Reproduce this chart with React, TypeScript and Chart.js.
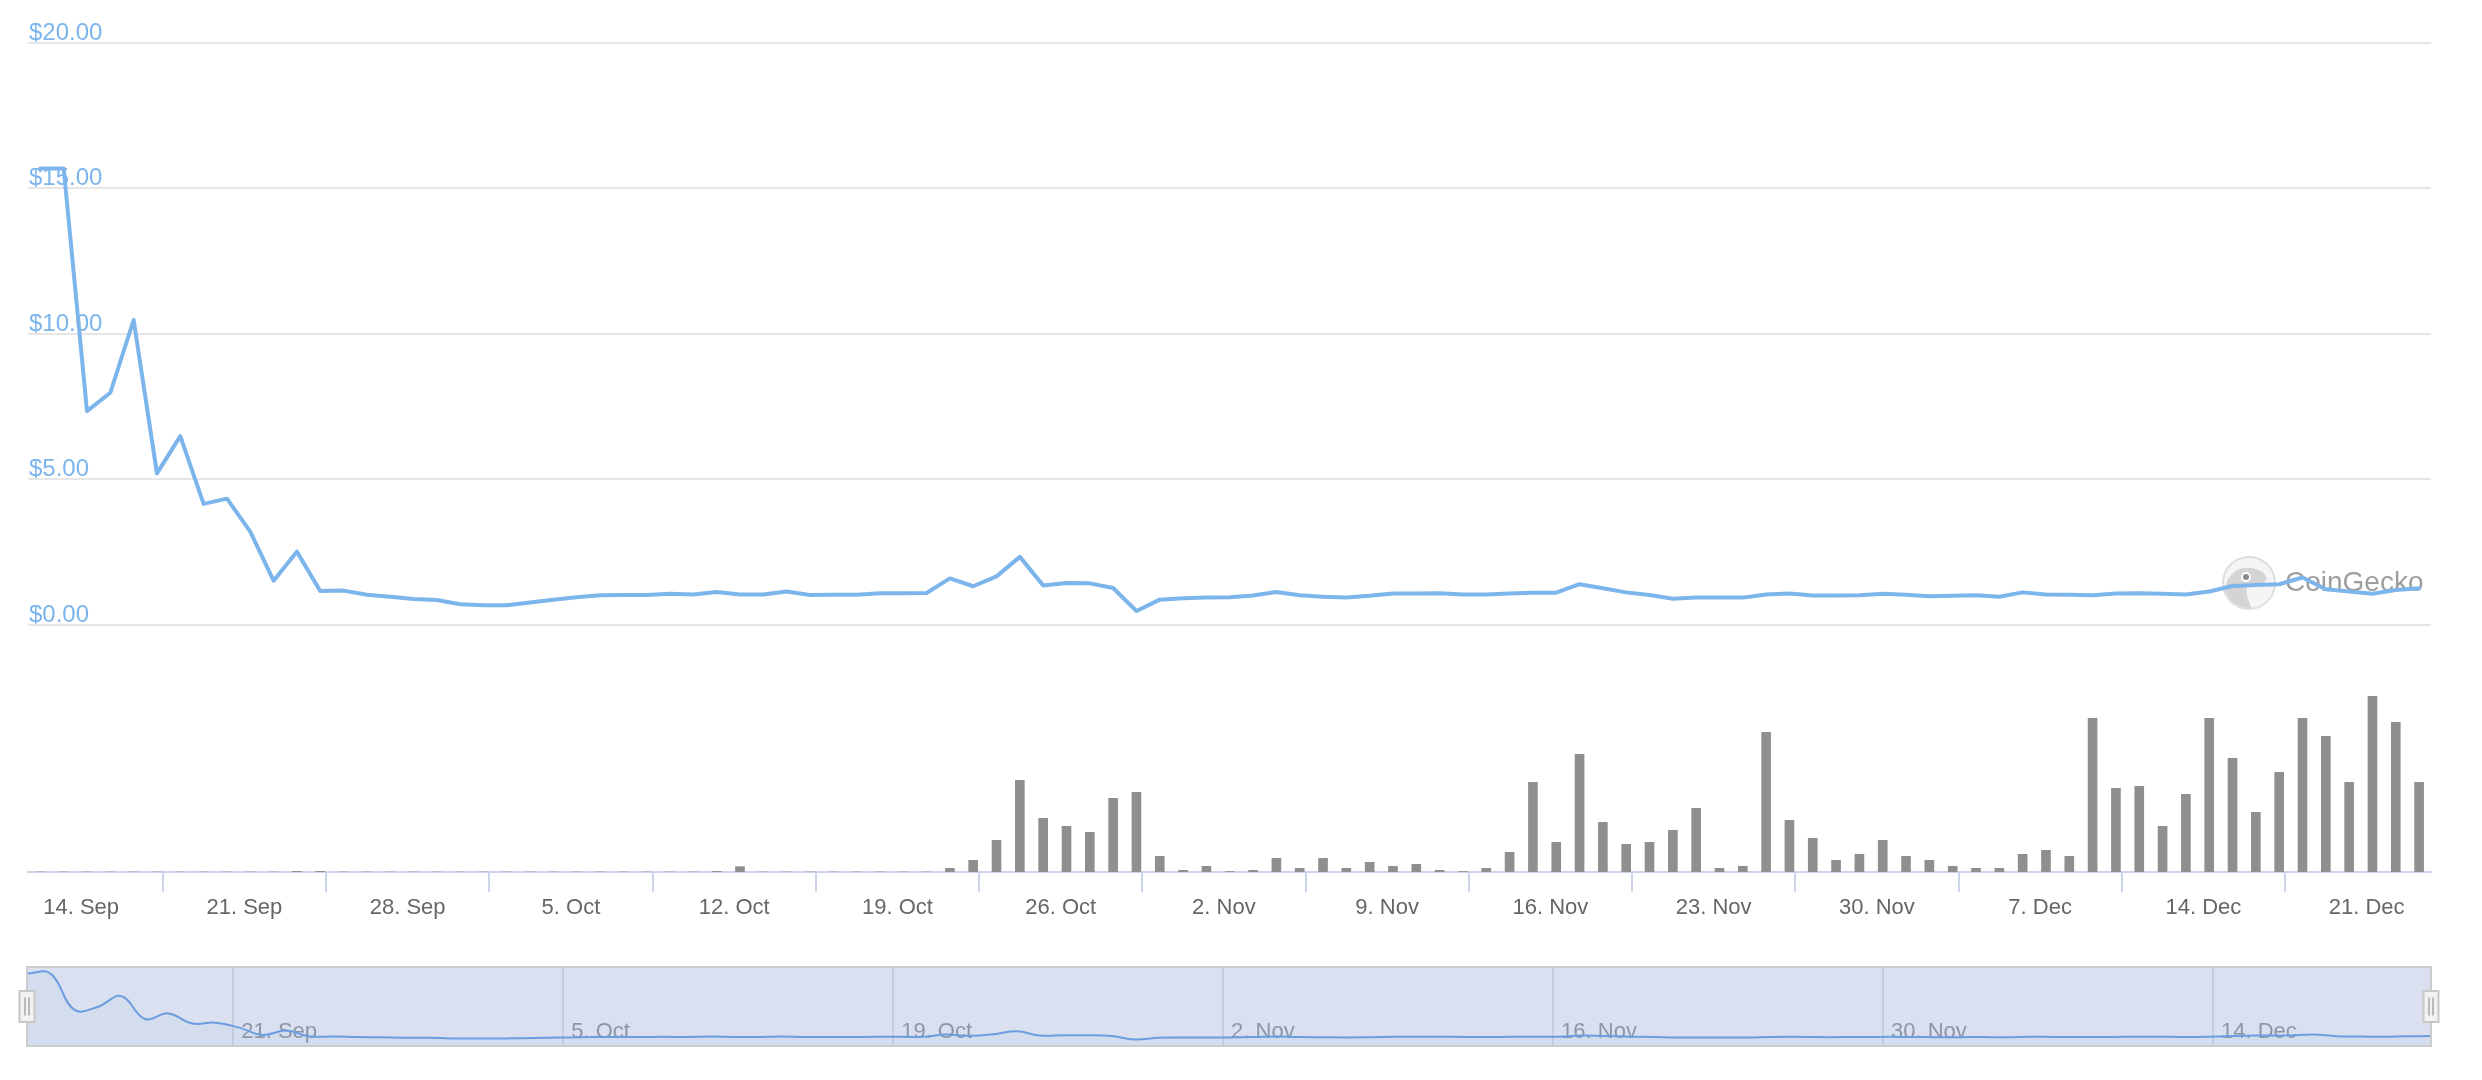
import React, { useEffect, useRef } from 'react';
import { Chart, registerables } from 'chart.js';

Chart.register(...registerables);

// ---------- data ----------
// x values are days counted from 14 Sep (00:00); one point per day
const firstPointDay = -1.75; // 12 Sep, early morning

const tickDays = [0, 7, 14, 21, 28, 35, 42, 49, 56, 63, 70, 77, 84, 91, 98];
const tickLabels = [
  '14. Sep', '21. Sep', '28. Sep', '5. Oct', '12. Oct', '19. Oct', '26. Oct',
  '2. Nov', '9. Nov', '16. Nov', '23. Nov', '30. Nov', '7. Dec', '14. Dec', '21. Dec',
];

const navTickDays = [7, 21, 35, 49, 63, 77, 91];
const navTickLabels = ['21. Sep', '5. Oct', '19. Oct', '2. Nov', '16. Nov', '30. Nov', '14. Dec'];

const priceTicks = [0, 5, 10, 15, 20];

const prices = [
  15.69, 15.69, 7.35, 7.98, 10.48, 5.21, 6.49, 4.16, 4.34, 3.21,
  1.52, 2.52, 1.17, 1.18, 1.04, 0.97, 0.89, 0.86, 0.71, 0.68,
  0.68, 0.77, 0.87, 0.95, 1.02, 1.03, 1.03, 1.07, 1.05, 1.13,
  1.05, 1.05, 1.15, 1.03, 1.04, 1.04, 1.09, 1.09, 1.10, 1.60,
  1.33, 1.67, 2.34, 1.36, 1.44, 1.43, 1.27, 0.48, 0.87, 0.92,
  0.94, 0.95, 1.01, 1.13, 1.02, 0.97, 0.94, 1.00, 1.08, 1.08,
  1.09, 1.05, 1.05, 1.08, 1.11, 1.11, 1.40, 1.26, 1.12, 1.03,
  0.90, 0.94, 0.94, 0.94, 1.05, 1.08, 1.01, 1.01, 1.02, 1.07,
  1.04, 0.99, 1.00, 1.02, 0.97, 1.12, 1.05, 1.04, 1.02, 1.08,
  1.09, 1.07, 1.05, 1.15, 1.34, 1.37, 1.40, 1.63, 1.23, 1.15,
  1.07, 1.20, 1.26,
];

// trading volume (relative units)
const volumes = [
  0, 0, 0, 0, 0, 0, 0, 0, 0, 0,
  0, 0.7, 0.7, 0, 0, 0, 0, 0, 0, 0,
  0, 0, 0, 0, 0, 0, 0, 0, 0, 0.7,
  5.3, 0, 0, 0, 0, 0, 0, 0, 0, 3.7,
  11.7, 31.7, 91.7, 53.7, 45.7, 39.7, 73.7, 79.7, 15.7, 1.7,
  5.7, 0.5, 1.7, 13.7, 3.7, 13.7, 3.7, 9.7, 5.7, 7.7,
  1.7, 0.5, 3.7, 19.7, 89.7, 29.7, 117.7, 49.7, 27.7, 29.7,
  41.7, 63.7, 3.7, 5.7, 139.7, 51.7, 33.7, 11.7, 17.7, 31.7,
  15.7, 11.7, 5.7, 3.7, 3.7, 17.7, 21.7, 15.7, 153.7, 83.7,
  85.7, 45.7, 77.7, 153.7, 113.7, 59.7, 99.7, 153.7, 135.7, 89.7,
  175.7, 149.7, 89.7,
];

// ---------- styles ----------
const FONT = '"Liberation Sans", Arial, Helvetica, sans-serif';
const LINE_COLOR = '#7cb5ec';
const BAR_COLOR = '#8f8f8f';
const NAV_LINE = '#6b9de0';

const X_MIN = -2.28;
const X_MAX = 100.76;
const PRICE_MIN = -8.49;
const PRICE_MAX = 20;
const VOL_MAX = 829;

const watermark = {
  id: 'watermark',
  beforeDatasetsDraw(chart: any) {
    const { ctx, chartArea } = chart;
    const y0 = chart.scales.y.getPixelForValue(0);
    const cx = chartArea.right - 182;
    const cy = y0 - 42;
    ctx.save();
    ctx.beginPath();
    ctx.arc(cx, cy, 26, 0, Math.PI * 2);
    ctx.fillStyle = '#f5f5f5';
    ctx.fill();
    ctx.lineWidth = 2;
    ctx.strokeStyle = '#dedede';
    ctx.stroke();
    ctx.save();
    ctx.beginPath();
    ctx.arc(cx, cy, 25, 0, Math.PI * 2);
    ctx.clip();
    ctx.fillStyle = '#d4d4d4';
    ctx.beginPath();
    ctx.moveTo(cx - 22, cy - 2);
    ctx.quadraticCurveTo(cx - 14, cy - 17, cx + 2, cy - 15);
    ctx.quadraticCurveTo(cx + 16, cy - 13, cx + 18, cy - 4);
    ctx.quadraticCurveTo(cx + 10, cy + 6, cx - 2, cy + 4);
    ctx.quadraticCurveTo(cx - 4, cy + 16, cx + 6, cy + 30);
    ctx.lineTo(cx - 20, cy + 30);
    ctx.quadraticCurveTo(cx - 26, cy + 12, cx - 22, cy - 2);
    ctx.fill();
    ctx.restore();
    ctx.beginPath();
    ctx.arc(cx - 3, cy - 6, 5, 0, Math.PI * 2);
    ctx.fillStyle = '#ffffff';
    ctx.fill();
    ctx.beginPath();
    ctx.arc(cx - 3, cy - 6, 3, 0, Math.PI * 2);
    ctx.fillStyle = '#8a8a8a';
    ctx.fill();
    ctx.font = `28px ${FONT}`;
    ctx.fillStyle = '#9e9e9e';
    ctx.textBaseline = 'alphabetic';
    ctx.textAlign = 'left';
    ctx.fillText('CoinGecko', cx + 36, cy + 8);
    ctx.restore();
  },
};

const navigatorDecor = {
  id: 'navigatorDecor',
  beforeDraw(chart: any) {
    const { ctx, chartArea } = chart;
    ctx.save();
    ctx.fillStyle = '#dae0ef';
    ctx.fillRect(chartArea.left, chartArea.top, chartArea.right - chartArea.left, chartArea.bottom - chartArea.top);
    ctx.restore();
  },
  beforeDatasetsDraw(chart: any) {
    // navigator axis labels sit inside the plot, left-aligned next to each grid line
    const { ctx, chartArea } = chart;
    const xScale = chart.scales.x;
    ctx.save();
    ctx.font = `22px ${FONT}`;
    ctx.fillStyle = '#8e96a6';
    ctx.textAlign = 'left';
    ctx.textBaseline = 'alphabetic';
    navTickDays.forEach((d, k) => {
      const px = xScale.getPixelForValue(d);
      ctx.fillText(navTickLabels[k], px + 8, chartArea.bottom - 8);
    });
    ctx.restore();
  },
  afterDraw(chart: any) {
    const { ctx, chartArea } = chart;
    const { left, right, top, bottom } = chartArea;
    ctx.save();
    ctx.lineWidth = 2;
    ctx.strokeStyle = '#cccccc';
    ctx.strokeRect(left, top, right - left, bottom - top);
    const mid = (top + bottom) / 2;
    [left, right].forEach((hx) => {
      const w = 15;
      const h = 31;
      ctx.fillStyle = '#f2f2f2';
      ctx.fillRect(hx - w / 2, mid - h / 2, w, h);
      ctx.lineWidth = 2;
      ctx.strokeStyle = '#c8c8c8';
      ctx.strokeRect(hx - w / 2, mid - h / 2, w, h);
      ctx.lineWidth = 1.5;
      ctx.strokeStyle = '#a8a8a8';
      ctx.beginPath();
      ctx.moveTo(hx - 2, mid - 9);
      ctx.lineTo(hx - 2, mid + 9);
      ctx.moveTo(hx + 2, mid - 9);
      ctx.lineTo(hx + 2, mid + 9);
      ctx.stroke();
    });
    ctx.restore();
  },
};

export default function App() {
  const mainRef = useRef<HTMLCanvasElement | null>(null);
  const navRef = useRef<HTMLCanvasElement | null>(null);

  useEffect(() => {
    if (!mainRef.current || !navRef.current) return;
    const xs = prices.map((_, i) => firstPointDay + i);
    const pricePts = xs.map((x, i) => ({ x, y: prices[i] }));
    const volPts = xs.map((x, i) => ({ x, y: volumes[i] }));

    const main = new Chart(mainRef.current, {
      type: 'bar',
      data: {
        datasets: [
          {
            type: 'line',
            data: pricePts,
            borderColor: LINE_COLOR,
            borderWidth: 4,
            pointRadius: 0,
            tension: 0,
            borderJoinStyle: 'round',
            borderCapStyle: 'round',
            yAxisID: 'y',
            order: 0,
          } as any,
          {
            type: 'bar',
            data: volPts,
            backgroundColor: BAR_COLOR,
            barThickness: 9,
            yAxisID: 'y1',
            order: 1,
          } as any,
        ],
      },
      options: {
        responsive: false,
        animation: false,
        layout: { padding: { left: 28, right: 51, top: 43, bottom: 8 } },
        plugins: { legend: { display: false }, tooltip: { enabled: false } },
        scales: {
          x: {
            type: 'linear',
            min: X_MIN,
            max: X_MAX,
            offset: false,
            afterBuildTicks: (s: any) => {
              s.ticks = tickDays.map((v) => ({ value: v }));
            },
            afterFit: (s: any) => {
              s.height = 60;
            },
            grid: { drawOnChartArea: false, drawTicks: true, tickLength: 20, color: '#ccd6eb', lineWidth: 2 },
            border: { display: true, color: '#ccd6eb', width: 2 },
            ticks: {
              autoSkip: false,
              maxRotation: 0,
              padding: 3,
              color: '#666666',
              font: { size: 22, family: FONT },
              callback: (v: any) => {
                const k = tickDays.indexOf(Number(v));
                return k >= 0 ? tickLabels[k] : '';
              },
            },
          },
          y: {
            position: 'left',
            min: PRICE_MIN,
            max: PRICE_MAX,
            afterBuildTicks: (s: any) => {
              s.ticks = priceTicks.map((v) => ({ value: v }));
            },
            afterFit: (s: any) => {
              s.width = 0;
            },
            grid: { color: '#e6e6e6', lineWidth: 2, drawTicks: false },
            border: { display: false },
            ticks: {
              mirror: true,
              padding: 1,
              labelOffset: -10,
              color: LINE_COLOR,
              font: { size: 24, family: FONT },
              callback: (v: any) => '$' + Number(v).toFixed(2),
            },
          },
          y1: {
            position: 'right',
            display: false,
            min: 0,
            max: VOL_MAX,
            grid: { display: false },
          },
        },
      } as any,
      plugins: [watermark],
    });

    const pMin = Math.min(...prices);
    const pMax = Math.max(...prices);
    const pad = (pMax - pMin) * 0.1;

    const nav = new Chart(navRef.current, {
      type: 'line',
      data: {
        datasets: [
          {
            data: pricePts,
            borderColor: NAV_LINE,
            borderWidth: 2,
            pointRadius: 0,
            tension: 0.4,
            fill: 'start',
            backgroundColor: 'rgba(124,181,236,0.06)',
          } as any,
        ],
      },
      options: {
        responsive: false,
        animation: false,
        layout: { padding: { left: 27, right: 51, top: 27, bottom: 34 } },
        plugins: { legend: { display: false }, tooltip: { enabled: false } },
        scales: {
          x: {
            type: 'linear',
            min: xs[0],
            max: xs[xs.length - 1],
            offset: false,
            afterBuildTicks: (s: any) => {
              s.ticks = navTickDays.map((v) => ({ value: v }));
            },
            afterFit: (s: any) => {
              s.height = 0;
            },
            grid: { color: '#c6cddc', lineWidth: 2, drawTicks: false },
            border: { display: false },
            ticks: { display: false },
          },
          y: {
            display: false,
            min: pMin - pad,
            max: pMax + pad,
          },
        },
      } as any,
      plugins: [navigatorDecor],
    });

    return () => {
      main.destroy();
      nav.destroy();
    };
  }, []);

  return (
    <div style={{ position: 'absolute', top: 0, left: 0, width: 2482, height: 1080, overflow: 'hidden', background: '#ffffff' }}>
      <canvas ref={mainRef} width={2482} height={940} style={{ position: 'absolute', top: 0, left: 0, width: 2482, height: 940 }} />
      <canvas ref={navRef} width={2482} height={140} style={{ position: 'absolute', top: 940, left: 0, width: 2482, height: 140 }} />
    </div>
  );
}
